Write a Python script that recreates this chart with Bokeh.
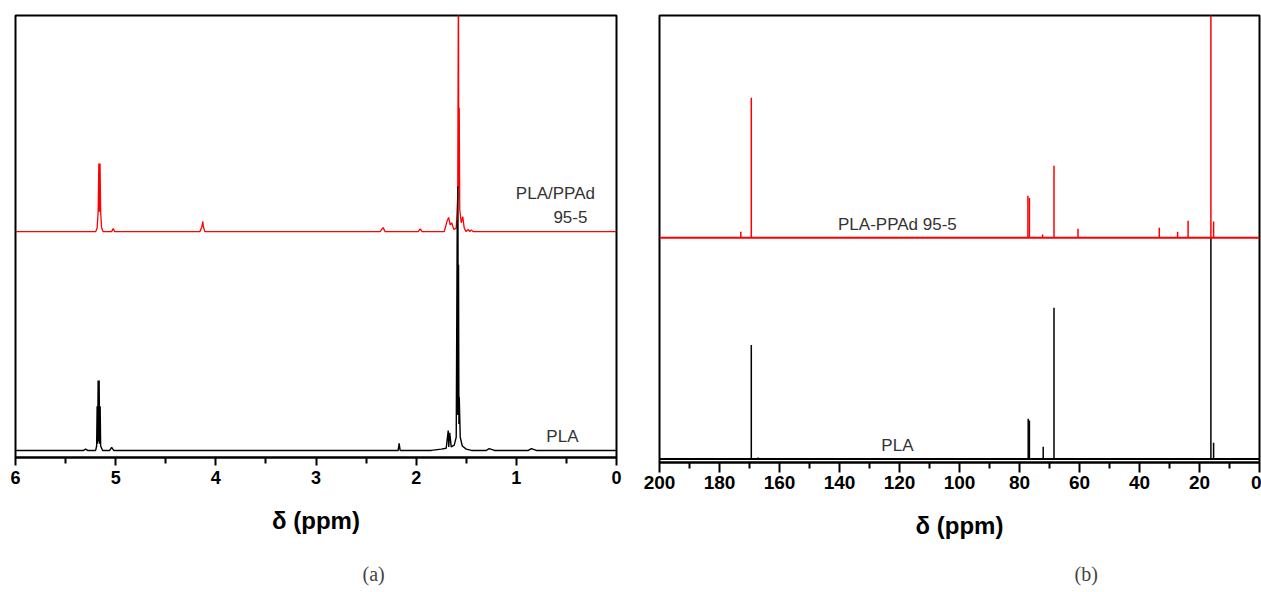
from bokeh.plotting import figure
from bokeh.models import Range1d, FixedTicker, Label, Title, Span
from bokeh.layouts import row
from bokeh.embed import file_html
from bokeh.resources import INLINE

# ---------------- (a) 1H NMR : polyline points ----------------
h_pla_ppm = [6.0, 5.32, 5.30, 5.28, 5.20, 5.19, 5.185, 5.18, 5.175, 5.17, 5.165, 5.16, 5.155, 5.15, 5.13,
             5.06, 5.04, 5.02, 2.18, 2.17, 2.16, 1.85, 1.75, 1.70, 1.68, 1.675, 1.665, 1.65, 1.62,
             1.60, 1.59, 1.587, 1.583, 1.58, 1.577, 1.573, 1.57, 1.56, 1.54, 1.50, 1.45,
             1.30, 1.27, 1.22, 0.88, 0.85, 0.80, 0.0]
h_pla_int = [0, 0, 0.3, 0, 0, 1.0, 10, 1.5, 15.8, 2, 15.8, 1.5, 10, 1.0, 0,
             0, 0.7, 0, 0, 1.6, 0, 0, 0.3, 0.5, 4.5, 0.8, 4.0, 0.8, 1.2,
             3, 52, 8, 59.7, 10, 42, 6, 12, 3, 1, 0.3, 0,
             0, 0.4, 0, 0, 0.4, 0, 0]

h_blend_ppm = [6.0, 5.20, 5.185, 5.175, 5.168, 5.162, 5.156, 5.150, 5.14, 5.125,
               5.04, 5.025, 5.01, 4.16, 4.14, 4.13, 4.125, 4.11, 2.36, 2.33, 2.31,
               1.98, 1.96, 1.94, 1.72, 1.69, 1.675, 1.66, 1.645, 1.625, 1.60, 1.585,
               1.578, 1.574, 1.570, 1.565, 1.55, 1.535, 1.52, 1.50, 1.48, 1.465, 1.45, 1.43, 0.0]
h_blend_int = [0, 0, 0.8, 4.5, 15.4, 4.5, 15.4, 4.5, 0.8, 0,
               0, 0.7, 0, 0, 1.0, 2.3, 1.2, 0, 0, 0.9, 0,
               0, 0.6, 0, 0, 2.5, 3.2, 1.5, 2.0, 0.5, 0.8, 8,
               60, 10, 28, 5, 2, 3.4, 0.8, 0, 0.5, 0, 0.4, 0, 0]

h_ticks = [0, 1, 2, 3, 4, 5, 6]
h_minor = [0.5, 1.5, 2.5, 3.5, 4.5, 5.5]

# ---------------- (b) 13C NMR : stick peaks ----------------
c_pla_ppm = [169.4, 167.1, 77.1, 76.7, 72.1, 68.5, 18.6, 16.2, 15.3]
c_pla_int = [25.5, 0.3, 9.0, 8.6, 2.7, 33.8, 0.2, 49.5, 3.6]

c_blend_ppm = [172.9, 169.4, 77.2, 76.7, 72.3, 68.5, 60.5, 33.4, 27.3, 23.8, 16.2, 15.3]
c_blend_int = [1.3, 31.3, 9.4, 8.9, 0.7, 16.1, 2.0, 2.2, 1.3, 3.8, 60, 3.6]

c_ticks = [0, 20, 40, 60, 80, 100, 120, 140, 160, 180, 200]
c_minor = [10, 30, 50, 70, 90, 110, 130, 150, 170, 190]

# vertical offsets of the stacked traces
H_BLEND_OFF, H_PLA_OFF = 51.1, 1.6
C_BLEND_OFF, C_PLA_OFF = 50.3, 0.8

RED = "#ff0000"
TXT = "#333333"
FONT = "Liberation Sans"


def base_fig(xr, frame_w, frame_h, left, right, ticks, minor,
             tick_font, tick_out, minor_out, tick_standoff, label_standoff):
    p = figure(x_range=Range1d(*xr), y_range=Range1d(0, 100),
               frame_width=frame_w, frame_height=frame_h,
               y_axis_location=None, toolbar_location=None,
               output_backend="svg", min_border_left=left, min_border_right=right,
               min_border_top=15, min_border_bottom=0)
    p.xgrid.visible = False
    p.ygrid.visible = False
    p.outline_line_color = "black"
    p.outline_line_width = 2
    ax = p.xaxis[0]
    ax.ticker = FixedTicker(ticks=ticks, minor_ticks=minor)
    ax.axis_line_width = 2
    ax.major_tick_line_width = 2
    ax.minor_tick_line_width = 2
    ax.major_tick_in = 0
    ax.major_tick_out = tick_out
    ax.minor_tick_in = 0
    ax.minor_tick_out = minor_out
    ax.major_label_standoff = tick_standoff
    ax.major_label_text_font = FONT
    ax.major_label_text_font_style = "bold"
    ax.major_label_text_font_size = tick_font
    ax.major_label_text_color = "black"
    ax.axis_label = "δ (ppm)"
    ax.axis_label_text_font = FONT
    ax.axis_label_text_font_style = "bold"
    ax.axis_label_text_font_size = "24px"
    ax.axis_label_text_color = "black"
    ax.axis_label_standoff = label_standoff
    return p


def lbl(p, x, y, t):
    p.add_layout(Label(x=x, y=y, text=t, text_align="center", text_baseline="middle",
                       text_font=FONT, text_font_size="17px", text_color=TXT))


# ---- panel (a)
p1 = base_fig((6, 0), 601, 442, 15, 24, h_ticks, h_minor, "18px", 8, 6, 5, 20)
p1.line([v for v in h_blend_ppm], [H_BLEND_OFF + v for v in h_blend_int], line_color=RED, line_width=1.3)
p1.line([v for v in h_pla_ppm], [H_PLA_OFF + v for v in h_pla_int], line_color="black", line_width=1.4)
lbl(p1, 0.61, 59.7, "PLA/PPAd")
lbl(p1, 0.46, 54.3, "95-5")
lbl(p1, 0.54, 4.75, "PLA")
cap1 = Title(text="(a)", align="left", offset=347, standoff=49,
             text_font="Liberation Serif", text_font_size="20px", text_font_style="normal")
p1.add_layout(cap1, "below")

# ---- panel (b)
p2 = base_fig((200, 0), 600, 447, 19, 2, c_ticks, c_minor, "19px", 10, 6, 3, 20)
p2.add_layout(Span(location=C_PLA_OFF, dimension="width", line_color="black", line_width=2))
p2.segment(x0=c_pla_ppm, y0=[C_PLA_OFF] * len(c_pla_ppm), x1=c_pla_ppm,
           y1=[C_PLA_OFF + v for v in c_pla_int], line_color="black", line_width=1.5)
p2.add_layout(Span(location=C_BLEND_OFF, dimension="width", line_color=RED, line_width=2))
p2.segment(x0=c_blend_ppm, y0=[C_BLEND_OFF] * len(c_blend_ppm), x1=c_blend_ppm,
           y1=[C_BLEND_OFF + v for v in c_blend_int], line_color=RED, line_width=1.5)
lbl(p2, 120.7, 53.2, "PLA-PPAd 95-5")
lbl(p2, 120.7, 3.8, "PLA")
cap2 = Title(text="(b)", align="left", offset=415, standoff=38,
             text_font="Liberation Serif", text_font_size="20px", text_font_style="normal")
p2.add_layout(cap2, "below")

layout = row(p1, p2)
open("out.html", "w").write(file_html(layout, INLINE))
